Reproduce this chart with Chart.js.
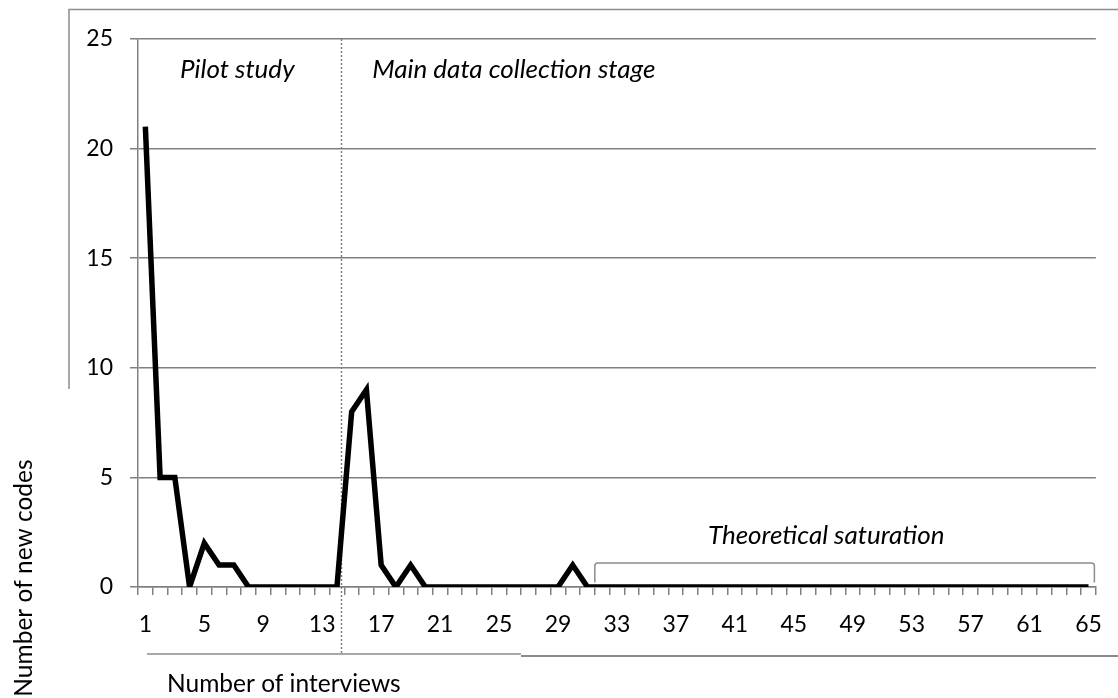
<!DOCTYPE html>
<html>
<head>
<meta charset="utf-8">
<script src="https://cdn.jsdelivr.net/npm/chart.js@4/dist/chart.umd.min.js"></script>
<style>
  html, body { margin: 0; padding: 0; background: #ffffff; }
  #wrap { width: 1118px; height: 698px; position: relative; }
</style>
</head>
<body>
<div id="wrap"><canvas id="chartCanvas"></canvas></div>
<script>
// interview number (x categories)
var interviews = [1, 2, 3, 4, 5, 6, 7, 8, 9, 10, 11, 12, 13, 14, 15, 16, 17, 18, 19, 20,
    21, 22, 23, 24, 25, 26, 27, 28, 29, 30, 31, 32, 33, 34, 35, 36, 37, 38, 39, 40,
    41, 42, 43, 44, 45, 46, 47, 48, 49, 50, 51, 52, 53, 54, 55, 56, 57, 58, 59, 60,
    61, 62, 63, 64, 65];

// number of new codes per interview
var newCodes = [21, 5, 5, 0, 2, 1, 1, 0, 0, 0, 0, 0, 0, 0, 8, 9, 1, 0, 1, 0,
    0, 0, 0, 0, 0, 0, 0, 0, 0, 1, 0, 0, 0, 0, 0, 0, 0, 0, 0, 0,
    0, 0, 0, 0, 0, 0, 0, 0, 0, 0, 0, 0, 0, 0, 0, 0, 0, 0, 0, 0,
    0, 0, 0, 0, 0];

// labels shown under the x axis
var xTickLabels = ['1', '5', '9', '13', '17', '21', '25', '29', '33', '37', '41', '45', '49', '53', '57', '61', '65'];

var yTitle = 'Number of new codes';
var xTitle = 'Number of interviews';

var gridGray = '#808080';
var fontName = 'Lato, "Open Sans", sans-serif';

// Draws the annotations, stage divider, bracket and the leftover frame lines
var extrasPlugin = {
    id: 'extras',
    beforeDatasetsDraw: function(chart) {
        var ctx = chart.ctx;
        var x = chart.scales.x;
        var area = chart.chartArea;
        // dotted divider between pilot and main stage
        var dx = Math.round(x.getPixelForValue(13.3)) + 0.5;
        ctx.save();
        ctx.strokeStyle = '#7f7f7f';
        ctx.lineWidth = 1.5;
        ctx.setLineDash([2, 2]);
        ctx.beginPath();
        ctx.moveTo(dx, area.top);
        ctx.lineTo(dx, 653);
        ctx.stroke();
        ctx.restore();
    },
    afterDraw: function(chart) {
        var ctx = chart.ctx;
        var x = chart.scales.x;
        var y = chart.scales.y;
        ctx.save();

        // frame remnants
        ctx.strokeStyle = '#8c8c8c';
        ctx.lineWidth = 1.5;
        ctx.beginPath();
        ctx.moveTo(69, 389);
        ctx.lineTo(69, 9.5);
        ctx.lineTo(1118, 9.5);
        ctx.moveTo(147, 654);
        ctx.lineTo(521, 654);
        ctx.stroke();
        ctx.lineWidth = 2;
        ctx.strokeStyle = '#8a8a8a';
        ctx.beginPath();
        ctx.moveTo(521, 656);
        ctx.lineTo(1118, 656);
        ctx.stroke();

        // bracket over the saturation section
        var bx1 = x.getPixelForValue(30.5);
        var bx2 = x.getPixelForValue(64.4);
        var by1 = y.getPixelForValue(1.1);
        var by2 = y.getPixelForValue(0.2);
        var r = 3;
        ctx.strokeStyle = '#8c8c8c';
        ctx.lineWidth = 1.5;
        ctx.beginPath();
        ctx.moveTo(bx1, by2);
        ctx.lineTo(bx1, by1 + r);
        ctx.quadraticCurveTo(bx1, by1, bx1 + r, by1);
        ctx.lineTo(bx2 - r, by1);
        ctx.quadraticCurveTo(bx2, by1, bx2, by1 + r);
        ctx.lineTo(bx2, by2);
        ctx.stroke();

        // italic stage labels
        ctx.fillStyle = '#000000';
        ctx.font = 'italic 26px ' + fontName;
        ctx.textAlign = 'center';
        ctx.textBaseline = 'middle';
        ctx.fillText('Pilot study', x.getPixelForValue(6.24), y.getPixelForValue(23.6));
        ctx.fillText('Main data collection stage', x.getPixelForValue(25.0), y.getPixelForValue(23.6));
        ctx.fillText('Theoretical saturation', x.getPixelForValue(46.2), y.getPixelForValue(2.35));

        // axis titles
        ctx.font = '24.5px ' + fontName;
        ctx.textAlign = 'left';
        ctx.textBaseline = 'alphabetic';
        ctx.fillText(xTitle, 167, 692);

        ctx.translate(32, 578);
        ctx.rotate(-Math.PI / 2);
        ctx.textAlign = 'center';
        ctx.fillText(yTitle, 0, 0);
        ctx.restore();
    }
};

var ctx = document.getElementById('chartCanvas').getContext('2d');
var lineChart = new Chart(ctx, {
    type: 'line',
    data: {
        labels: interviews,
        datasets: [{
            label: 'New codes',
            data: newCodes,
            borderColor: '#000000',
            borderWidth: 5.5,
            borderJoinStyle: 'miter',
            borderCapStyle: 'butt',
            pointRadius: 0,
            tension: 0,
            fill: false
        }]
    },
    options: {
        responsive: true,
        maintainAspectRatio: false,
        animation: false,
        layout: {
            padding: { top: 39, right: 21, bottom: 0, left: 0 }
        },
        plugins: {
            legend: { display: false },
            tooltip: { enabled: false }
        },
        scales: {
            x: {
                type: 'category',
                offset: true,
                grid: {
                    offset: true,
                    drawOnChartArea: false,
                    drawTicks: true,
                    tickLength: 8,
                    color: gridGray,
                    lineWidth: 1.5
                },
                border: { color: gridGray, width: 1.5 },
                ticks: {
                    autoSkip: false,
                    maxRotation: 0,
                    padding: 16,
                    color: '#000000',
                    font: { family: fontName, size: 23 },
                    callback: function(value, index) {
                        var lbl = String(interviews[index]);
                        return xTickLabels.indexOf(lbl) >= 0 ? lbl : '';
                    }
                },
                afterFit: function(scale) { scale.height = 111; }
            },
            y: {
                min: 0,
                max: 25,
                grid: {
                    color: gridGray,
                    lineWidth: 1.5,
                    tickLength: 8
                },
                border: { color: gridGray, width: 1.5 },
                ticks: {
                    stepSize: 5,
                    padding: 17,
                    color: '#000000',
                    font: { family: fontName, size: 23 }
                },
                afterFit: function(scale) { scale.width = 138; }
            }
        }
    },
    plugins: [extrasPlugin]
});
</script>
</body>
</html>
